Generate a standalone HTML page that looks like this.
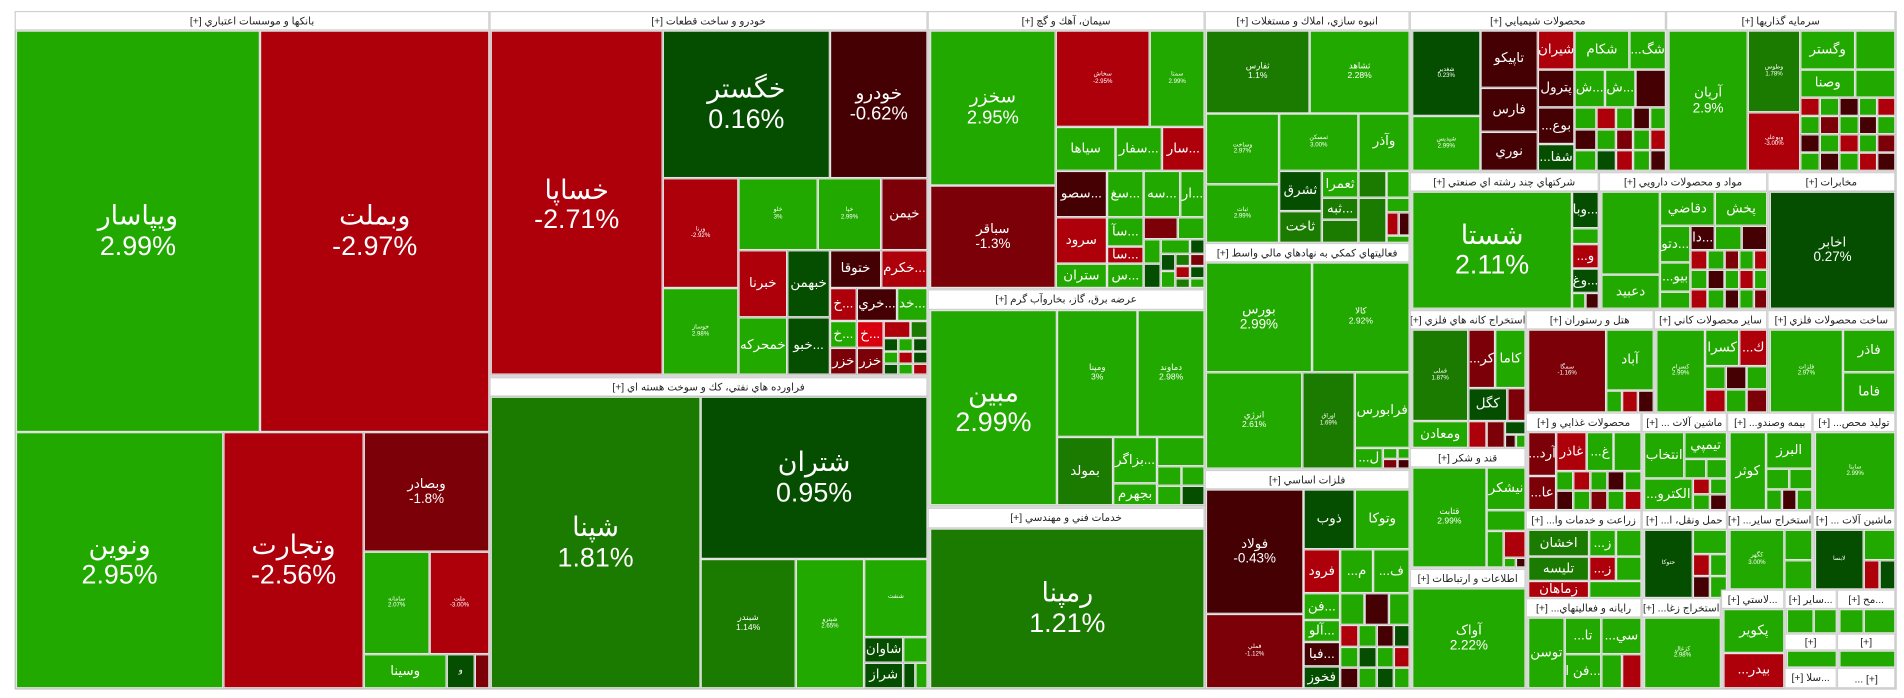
<!DOCTYPE html>
<html><head><meta charset="utf-8">
<style>
html,body{margin:0;padding:0;background:#fff;width:1904px;height:698px;overflow:hidden}
#w{position:absolute;left:0;top:0;width:1560px;height:572px;transform:scale(1.22051);transform-origin:0 0;font-family:"Liberation Sans","DejaVu Sans",sans-serif}
.s{position:absolute;border:1px solid #c8c8c8;box-sizing:border-box;background:#d8d8d8}
.h{position:absolute;background:#fff;color:#222;font-size:8.5px;text-align:center;box-sizing:border-box;border:1px solid #d0d0d0;display:flex;align-items:center;justify-content:center;white-space:nowrap;overflow:hidden;direction:rtl}
.c{position:absolute;box-sizing:border-box;border:1px solid #e4e4e4;color:#fff;display:flex;align-items:center;justify-content:center;text-align:center;overflow:hidden;line-height:1.1;white-space:nowrap}
.G{background:#22a900}.g{background:#1b7a00}.D{background:#054e00}
.R{background:#ae000b}.r{background:#7c0007}.K{background:#440003}.B{background:#d8000f}
.f1{font-size:22px}.f2{font-size:15px}.f3{font-size:11px}.f4{font-size:7px}.f5{font-size:5px}
</style></head><body><div id="w">
<div class="s" style="left:12px;top:9px;width:1542px;height:556px"></div>

<!-- Banks -->
<div class="h" style="left:12px;top:9px;width:389px;height:16px">بانکها و موسسات اعتباري [+]</div>
<div class="c G f1" style="left:13px;top:25px;width:200px;height:329px">ویپاسار<br>2.99%</div>
<div class="c R f1" style="left:213px;top:25px;width:188px;height:329px">وبملت<br>-2.97%</div>
<div class="c G f1" style="left:13px;top:354px;width:170px;height:210px">ونوین<br>2.95%</div>
<div class="c R f1" style="left:183px;top:354px;width:115px;height:210px">وتجارت<br>-2.56%</div>
<div class="c r f3" style="left:298px;top:354px;width:103px;height:98px">وبصادر<br>-1.8%</div>
<div class="c G f5" style="left:298px;top:452px;width:54px;height:84px">سامانه<br>2.07%</div>
<div class="c R f5" style="left:352px;top:452px;width:49px;height:84px">ملت<br>-3.00%</div>
<div class="c G f3" style="left:298px;top:536px;width:68px;height:28px">وسینا</div>
<div class="c D f4" style="left:366px;top:536px;width:23px;height:28px">و</div>
<div class="c r" style="left:389px;top:536px;width:12px;height:28px"></div>

<!-- Khodro -->
<div class="h" style="left:401px;top:9px;width:359px;height:16px">خودرو و ساخت قطعات [+]</div>
<div class="c R f1" style="left:402px;top:25px;width:141px;height:282px;align-items:flex-start;padding-top:118px">خساپا<br>-2.71%</div>
<div class="c D f1" style="left:543px;top:25px;width:137px;height:121px">خگستر<br>0.16%</div>
<div class="c K f2" style="left:680px;top:25px;width:80px;height:121px">خودرو<br>-0.62%</div>
<div class="c R f5" style="left:543px;top:146px;width:62px;height:90px">ورنا<br>-2.92%</div>
<div class="c G f5" style="left:605px;top:146px;width:65px;height:59px">خلو<br>3%</div>
<div class="c G f5" style="left:670px;top:146px;width:52px;height:59px">خپا<br>2.99%</div>
<div class="c r f3" style="left:722px;top:146px;width:38px;height:59px">خیمن</div>
<div class="c G f5" style="left:543px;top:236px;width:62px;height:71px">خوساز<br>2.98%</div>
<div class="c R f3" style="left:605px;top:205px;width:40px;height:55px">خبرنا</div>
<div class="c D f3" style="left:645px;top:205px;width:35px;height:55px">خبهمن</div>
<div class="c G f3" style="left:605px;top:260px;width:40px;height:47px">خمحرکه</div>
<div class="c D f3" style="left:645px;top:260px;width:35px;height:47px">خبو...</div>
<div class="c K f3" style="left:680px;top:205px;width:42px;height:31px">ختوقا</div>
<div class="c R f3" style="left:722px;top:205px;width:38px;height:31px">خکرم...</div>
<div class="c R f3" style="left:680px;top:236px;width:22px;height:27px">خ...</div>
<div class="c K f3" style="left:702px;top:236px;width:33px;height:27px">خري...</div>
<div class="c G f3" style="left:735px;top:236px;width:25px;height:27px">خد...</div>
<div class="c G f3" style="left:680px;top:263px;width:22px;height:22px">خ...</div>
<div class="c B f3" style="left:702px;top:263px;width:22px;height:22px">خ...</div>
<div class="c r f3" style="left:680px;top:285px;width:22px;height:22px">خزر</div>
<div class="c R" style="left:724px;top:263px;width:22px;height:14px"></div>
<div class="c g" style="left:746px;top:263px;width:14px;height:14px"></div>
<div class="c r f3" style="left:702px;top:285px;width:22px;height:22px">خزر</div>
<div class="c D" style="left:724px;top:277px;width:12px;height:11px"></div>
<div class="c G" style="left:736px;top:277px;width:12px;height:11px"></div>
<div class="c D" style="left:748px;top:277px;width:12px;height:11px"></div>
<div class="c G" style="left:724px;top:288px;width:12px;height:10px"></div>
<div class="c R" style="left:736px;top:288px;width:12px;height:10px"></div>
<div class="c D" style="left:748px;top:288px;width:12px;height:10px"></div>
<div class="c D" style="left:724px;top:298px;width:12px;height:9px"></div>
<div class="c G" style="left:736px;top:298px;width:12px;height:9px"></div>
<div class="c R" style="left:748px;top:298px;width:12px;height:9px"></div>

<!-- Oil -->
<div class="h" style="left:401px;top:309px;width:359px;height:16px">فراورده هاي نفتي، كك و سوخت هسته اي [+]</div>
<div class="c g f1" style="left:402px;top:325px;width:172px;height:239px">شپنا<br>1.81%</div>
<div class="c D f1" style="left:574px;top:325px;width:186px;height:133px">شتران<br>0.95%</div>
<div class="c g f4" style="left:574px;top:458px;width:78px;height:106px">شبندر<br>1.14%</div>
<div class="c G f5" style="left:652px;top:458px;width:56px;height:106px">شپترو<br>2.65%</div>
<div class="c G f5" style="left:708px;top:458px;width:52px;height:64px">شنفت</div>
<div class="c D f3" style="left:708px;top:522px;width:32px;height:21px">شاوان</div>
<div class="c D f3" style="left:708px;top:543px;width:32px;height:21px">شراز</div>
<div class="c G" style="left:740px;top:522px;width:20px;height:21px"></div>
<div class="c D" style="left:740px;top:543px;width:10px;height:21px"></div>
<div class="c G" style="left:750px;top:543px;width:10px;height:21px"></div>

<!-- Cement -->
<div class="h" style="left:760px;top:9px;width:227px;height:16px">سيمان، آهك و گچ [+]</div>
<div class="c G f2" style="left:762px;top:25px;width:103px;height:127px">سخزر<br>2.95%</div>
<div class="c r f3" style="left:762px;top:152px;width:103px;height:84px">سباقر<br>-1.3%</div>
<div class="c R f5" style="left:865px;top:25px;width:77px;height:79px">سخاش<br>-2.95%</div>
<div class="c G f5" style="left:942px;top:25px;width:45px;height:79px">سمتا<br>2.99%</div>
<div class="c G f3" style="left:865px;top:104px;width:49px;height:36px">سیاها</div>
<div class="c G f3" style="left:914px;top:104px;width:38px;height:36px">سفار...</div>
<div class="c R f3" style="left:952px;top:104px;width:35px;height:36px">سار...</div>
<div class="c K f3" style="left:865px;top:140px;width:42px;height:38px">سصو...</div>
<div class="c G f3" style="left:907px;top:140px;width:30px;height:38px">سغ...</div>
<div class="c G f3" style="left:937px;top:140px;width:30px;height:38px">سه...</div>
<div class="c G f3" style="left:967px;top:140px;width:20px;height:38px">ار...</div>
<div class="c R f3" style="left:865px;top:178px;width:42px;height:38px">سرود</div>
<div class="c G f3" style="left:865px;top:216px;width:42px;height:20px">ستران</div>
<div class="c G f3" style="left:907px;top:178px;width:30px;height:24px">سآ...</div>
<div class="c R f3" style="left:907px;top:202px;width:30px;height:14px">سا...</div>
<div class="c G f3" style="left:907px;top:216px;width:30px;height:20px">س...</div>
<div class="c r" style="left:937px;top:178px;width:28px;height:18px"></div>
<div class="c G" style="left:965px;top:178px;width:22px;height:18px"></div>
<div class="c G" style="left:937px;top:196px;width:14px;height:20px"></div>
<div class="c G" style="left:951px;top:196px;width:24px;height:12px"></div>
<div class="c D" style="left:975px;top:196px;width:12px;height:12px"></div>
<div class="c D" style="left:951px;top:208px;width:12px;height:14px"></div>
<div class="c g" style="left:963px;top:208px;width:12px;height:10px"></div>
<div class="c r" style="left:975px;top:208px;width:12px;height:10px"></div>
<div class="c D" style="left:937px;top:216px;width:14px;height:20px"></div>
<div class="c G" style="left:951px;top:222px;width:12px;height:14px"></div>
<div class="c R" style="left:963px;top:218px;width:12px;height:10px"></div>
<div class="c D" style="left:975px;top:218px;width:12px;height:10px"></div>
<div class="c g" style="left:963px;top:228px;width:12px;height:8px"></div>
<div class="c G" style="left:975px;top:228px;width:12px;height:8px"></div>

<!-- Power -->
<div class="h" style="left:760px;top:237px;width:227px;height:17px">عرضه برق، گاز، بخاروآب گرم [+]</div>
<div class="c G f1" style="left:762px;top:254px;width:104px;height:160px">مبين<br>2.99%</div>
<div class="c G f4" style="left:866px;top:254px;width:66px;height:104px">ومپنا<br>3%</div>
<div class="c G f4" style="left:932px;top:254px;width:55px;height:104px">دماوند<br>2.98%</div>
<div class="c g f3" style="left:866px;top:358px;width:46px;height:56px">بمولد</div>
<div class="c G f3" style="left:912px;top:358px;width:36px;height:38px">بزاگر...</div>
<div class="c G f3" style="left:912px;top:396px;width:36px;height:18px">بجهرم</div>
<div class="c G" style="left:948px;top:358px;width:39px;height:24px"></div>
<div class="c G" style="left:948px;top:382px;width:20px;height:16px"></div>
<div class="c G" style="left:968px;top:382px;width:19px;height:16px"></div>
<div class="c G" style="left:948px;top:398px;width:20px;height:16px"></div>
<div class="c D" style="left:968px;top:398px;width:19px;height:16px"></div>

<!-- Tech -->
<div class="h" style="left:760px;top:416px;width:227px;height:17px">خدمات فني و مهندسي [+]</div>
<div class="c g f1" style="left:762px;top:433px;width:225px;height:131px">رمپنا<br>1.21%</div>

<!-- Anbooh -->
<div class="h" style="left:987px;top:9px;width:168px;height:16px">انبوه سازي، املاك و مستغلات [+]</div>
<div class="c g f4" style="left:988px;top:25px;width:85px;height:68px">ثفارس<br>1.1%</div>
<div class="c G f4" style="left:1073px;top:25px;width:82px;height:68px">ثشاهد<br>2.28%</div>
<div class="c G f5" style="left:988px;top:93px;width:60px;height:58px">وساخت<br>2.97%</div>
<div class="c G f5" style="left:988px;top:151px;width:60px;height:48px">ثبات<br>2.99%</div>
<div class="c G f5" style="left:1048px;top:93px;width:65px;height:47px">ثمسکن<br>3.00%</div>
<div class="c G f3" style="left:1113px;top:93px;width:42px;height:47px">وآذر</div>
<div class="c D f3" style="left:1048px;top:140px;width:35px;height:33px">ثشرق</div>
<div class="c g f3" style="left:1048px;top:173px;width:35px;height:26px">ثاخت</div>
<div class="c G f3" style="left:1083px;top:140px;width:30px;height:22px">ثعمرا</div>
<div class="c g f3" style="left:1083px;top:162px;width:30px;height:18px">ثبه...</div>
<div class="c g" style="left:1083px;top:180px;width:30px;height:19px"></div>
<div class="c g" style="left:1113px;top:140px;width:23px;height:22px"></div>
<div class="c G" style="left:1136px;top:140px;width:19px;height:22px"></div>
<div class="c g" style="left:1113px;top:162px;width:23px;height:37px"></div>
<div class="c G" style="left:1136px;top:162px;width:19px;height:12px"></div>
<div class="c R" style="left:1136px;top:174px;width:10px;height:19px"></div>
<div class="c K" style="left:1146px;top:174px;width:9px;height:19px"></div>
<div class="c G" style="left:1136px;top:193px;width:19px;height:6px"></div>

<!-- Finance -->
<div class="h" style="left:987px;top:199px;width:168px;height:16px">فعاليتهاي كمكي به نهادهاي مالي واسط [+]</div>
<div class="c G f3" style="left:988px;top:215px;width:87px;height:90px">بورس<br>2.99%</div>
<div class="c G f4" style="left:1075px;top:215px;width:80px;height:90px">كالا<br>2.92%</div>
<div class="c G f4" style="left:988px;top:305px;width:79px;height:79px">انرژي<br>2.61%</div>
<div class="c g f5" style="left:1067px;top:305px;width:43px;height:79px">اوراق<br>1.69%</div>
<div class="c G f3" style="left:1110px;top:305px;width:45px;height:62px">فرابورس</div>
<div class="c G f3" style="left:1110px;top:367px;width:23px;height:17px">...ل</div>
<div class="c G" style="left:1133px;top:367px;width:12px;height:9px"></div>
<div class="c G" style="left:1145px;top:367px;width:10px;height:9px"></div>
<div class="c r" style="left:1133px;top:376px;width:12px;height:8px"></div>
<div class="c K" style="left:1145px;top:376px;width:10px;height:8px"></div>

<!-- Metals -->
<div class="h" style="left:987px;top:385px;width:168px;height:16px">فلزات اساسي [+]</div>
<div class="c K f3" style="left:988px;top:401px;width:80px;height:102px">فولاد<br>-0.43%</div>
<div class="c r f5" style="left:988px;top:503px;width:80px;height:61px">فملي<br>-1.12%</div>
<div class="c D f3" style="left:1068px;top:401px;width:42px;height:49px">ذوب</div>
<div class="c G f3" style="left:1110px;top:401px;width:45px;height:49px">وتوكا</div>
<div class="c R f3" style="left:1068px;top:450px;width:30px;height:36px">فرود</div>
<div class="c G f3" style="left:1098px;top:450px;width:27px;height:36px">...م</div>
<div class="c G f3" style="left:1125px;top:450px;width:30px;height:36px">...ف</div>
<div class="c G f3" style="left:1068px;top:486px;width:30px;height:22px">فن...</div>
<div class="c G f3" style="left:1068px;top:508px;width:30px;height:18px">آلو...</div>
<div class="c K f3" style="left:1068px;top:526px;width:30px;height:20px">فبا...</div>
<div class="c D f3" style="left:1068px;top:546px;width:30px;height:18px">فخوز</div>
<div class="c G" style="left:1098px;top:486px;width:20px;height:26px"></div>
<div class="c K" style="left:1118px;top:486px;width:20px;height:26px"></div>
<div class="c G" style="left:1138px;top:486px;width:17px;height:26px"></div>
<div class="c R" style="left:1098px;top:512px;width:15px;height:18px"></div>
<div class="c G" style="left:1113px;top:512px;width:15px;height:18px"></div>
<div class="c K" style="left:1128px;top:512px;width:14px;height:18px"></div>
<div class="c D" style="left:1142px;top:512px;width:13px;height:18px"></div>
<div class="c G" style="left:1098px;top:530px;width:15px;height:17px"></div>
<div class="c D" style="left:1113px;top:530px;width:15px;height:17px"></div>
<div class="c G" style="left:1128px;top:530px;width:14px;height:17px"></div>
<div class="c R" style="left:1142px;top:530px;width:13px;height:17px"></div>
<div class="c K" style="left:1098px;top:547px;width:15px;height:17px"></div>
<div class="c G" style="left:1113px;top:547px;width:15px;height:17px"></div>
<div class="c D" style="left:1128px;top:547px;width:14px;height:17px"></div>
<div class="c G" style="left:1142px;top:547px;width:13px;height:17px"></div>

<!-- Chem -->
<div class="h" style="left:1155px;top:9px;width:210px;height:16px">محصولات شيميايي [+]</div>
<div class="c D f5" style="left:1157px;top:25px;width:56px;height:70px">شغدیر<br>0.23%</div>
<div class="c G f5" style="left:1157px;top:95px;width:56px;height:45px">شپدیس<br>2.99%</div>
<div class="c K f3" style="left:1213px;top:25px;width:47px;height:47px">تاپيكو</div>
<div class="c K f3" style="left:1213px;top:72px;width:47px;height:36px">فارس</div>
<div class="c K f3" style="left:1213px;top:108px;width:47px;height:32px">نوري</div>
<div class="c R f3" style="left:1260px;top:25px;width:30px;height:32px">شيران</div>
<div class="c K f3" style="left:1260px;top:57px;width:30px;height:31px">پترول</div>
<div class="c K f3" style="left:1260px;top:88px;width:30px;height:30px">...بوع</div>
<div class="c D f3" style="left:1260px;top:118px;width:30px;height:22px">...شفا</div>
<div class="c G f3" style="left:1290px;top:25px;width:45px;height:32px">شكام</div>
<div class="c G f3" style="left:1335px;top:25px;width:30px;height:32px">...شگ</div>
<div class="c G f3" style="left:1290px;top:57px;width:25px;height:31px">ش...</div>
<div class="c G f3" style="left:1315px;top:57px;width:25px;height:31px">ش...</div>
<div class="c K" style="left:1340px;top:57px;width:25px;height:31px"></div>
<div class="c G" style="left:1290px;top:88px;width:18px;height:18px"></div>
<div class="c R" style="left:1308px;top:88px;width:16px;height:18px"></div>
<div class="c G" style="left:1324px;top:88px;width:14px;height:18px"></div>
<div class="c K" style="left:1338px;top:88px;width:14px;height:18px"></div>
<div class="c G" style="left:1352px;top:88px;width:13px;height:18px"></div>
<div class="c K" style="left:1290px;top:106px;width:18px;height:17px"></div>
<div class="c G" style="left:1308px;top:106px;width:16px;height:17px"></div>
<div class="c r" style="left:1324px;top:106px;width:14px;height:17px"></div>
<div class="c G" style="left:1338px;top:106px;width:14px;height:17px"></div>
<div class="c R" style="left:1352px;top:106px;width:13px;height:17px"></div>
<div class="c G" style="left:1290px;top:123px;width:18px;height:17px"></div>
<div class="c D" style="left:1308px;top:123px;width:16px;height:17px"></div>
<div class="c R" style="left:1324px;top:123px;width:14px;height:17px"></div>
<div class="c G" style="left:1338px;top:123px;width:14px;height:17px"></div>
<div class="c K" style="left:1352px;top:123px;width:13px;height:17px"></div>

<!-- Investment -->
<div class="h" style="left:1365px;top:9px;width:188px;height:16px">سرمايه گذاريها [+]</div>
<div class="c G f3" style="left:1367px;top:25px;width:65px;height:115px">آريان<br>2.9%</div>
<div class="c g f5" style="left:1432px;top:25px;width:43px;height:67px">وطوس<br>1.78%</div>
<div class="c R f5" style="left:1432px;top:92px;width:43px;height:48px">وبوعلی<br>-3.00%</div>
<div class="c G f3" style="left:1475px;top:25px;width:45px;height:32px">وگستر</div>
<div class="c G" style="left:1520px;top:25px;width:33px;height:32px"></div>
<div class="c G f3" style="left:1475px;top:57px;width:45px;height:23px">وصنا</div>
<div class="c G" style="left:1520px;top:57px;width:33px;height:23px"></div>
<div class="c R" style="left:1475px;top:80px;width:16px;height:15px"></div>
<div class="c G" style="left:1491px;top:80px;width:16px;height:15px"></div>
<div class="c K" style="left:1507px;top:80px;width:16px;height:15px"></div>
<div class="c G" style="left:1523px;top:80px;width:15px;height:15px"></div>
<div class="c R" style="left:1538px;top:80px;width:15px;height:15px"></div>
<div class="c G" style="left:1475px;top:95px;width:16px;height:15px"></div>
<div class="c r" style="left:1491px;top:95px;width:16px;height:15px"></div>
<div class="c G" style="left:1507px;top:95px;width:16px;height:15px"></div>
<div class="c K" style="left:1523px;top:95px;width:15px;height:15px"></div>
<div class="c G" style="left:1538px;top:95px;width:15px;height:15px"></div>
<div class="c K" style="left:1475px;top:110px;width:16px;height:15px"></div>
<div class="c G" style="left:1491px;top:110px;width:16px;height:15px"></div>
<div class="c R" style="left:1507px;top:110px;width:16px;height:15px"></div>
<div class="c G" style="left:1523px;top:110px;width:15px;height:15px"></div>
<div class="c r" style="left:1538px;top:110px;width:15px;height:15px"></div>
<div class="c G" style="left:1475px;top:125px;width:16px;height:15px"></div>
<div class="c K" style="left:1491px;top:125px;width:16px;height:15px"></div>
<div class="c G" style="left:1507px;top:125px;width:16px;height:15px"></div>
<div class="c R" style="left:1523px;top:125px;width:15px;height:15px"></div>
<div class="c K" style="left:1538px;top:125px;width:15px;height:15px"></div>

<!-- Multi -->
<div class="h" style="left:1155px;top:141px;width:155px;height:16px">شركتهاي چند رشته اي صنعتي [+]</div>
<div class="c G f1" style="left:1157px;top:157px;width:131px;height:96px">شستا<br>2.11%</div>
<div class="c D f3" style="left:1288px;top:157px;width:22px;height:30px">وبا...</div>
<div class="c G" style="left:1288px;top:187px;width:22px;height:13px"></div>
<div class="c R f3" style="left:1288px;top:200px;width:22px;height:20px">...و</div>
<div class="c D f3" style="left:1288px;top:220px;width:22px;height:20px">وغ...</div>
<div class="c G" style="left:1288px;top:240px;width:11px;height:13px"></div>
<div class="c K" style="left:1299px;top:240px;width:11px;height:13px"></div>

<!-- Pharma -->
<div class="h" style="left:1310px;top:141px;width:138px;height:16px">مواد و محصولات دارويي [+]</div>
<div class="c G" style="left:1312px;top:157px;width:48px;height:68px"></div>
<div class="c G f3" style="left:1312px;top:225px;width:48px;height:28px">دعبيد</div>
<div class="c G f3" style="left:1360px;top:157px;width:45px;height:28px">دقاضي</div>
<div class="c G f3" style="left:1405px;top:157px;width:43px;height:28px">پخش</div>
<div class="c G f3" style="left:1360px;top:185px;width:25px;height:30px">دتو...</div>
<div class="c G f3" style="left:1360px;top:215px;width:25px;height:24px">...بيو</div>
<div class="c G" style="left:1360px;top:239px;width:25px;height:14px"></div>
<div class="c K f3" style="left:1385px;top:185px;width:20px;height:20px">دا...</div>
<div class="c G" style="left:1405px;top:185px;width:22px;height:20px"></div>
<div class="c K" style="left:1427px;top:185px;width:21px;height:20px"></div>
<div class="c R" style="left:1385px;top:205px;width:14px;height:16px"></div>
<div class="c G" style="left:1399px;top:205px;width:14px;height:16px"></div>
<div class="c r" style="left:1413px;top:205px;width:12px;height:16px"></div>
<div class="c G" style="left:1425px;top:205px;width:12px;height:16px"></div>
<div class="c R" style="left:1437px;top:205px;width:11px;height:16px"></div>
<div class="c G" style="left:1385px;top:221px;width:14px;height:16px"></div>
<div class="c K" style="left:1399px;top:221px;width:14px;height:16px"></div>
<div class="c G" style="left:1413px;top:221px;width:12px;height:16px"></div>
<div class="c R" style="left:1425px;top:221px;width:12px;height:16px"></div>
<div class="c G" style="left:1437px;top:221px;width:11px;height:16px"></div>
<div class="c R" style="left:1385px;top:237px;width:14px;height:16px"></div>
<div class="c G" style="left:1399px;top:237px;width:14px;height:16px"></div>
<div class="c K" style="left:1413px;top:237px;width:12px;height:16px"></div>
<div class="c G" style="left:1425px;top:237px;width:12px;height:16px"></div>
<div class="c r" style="left:1437px;top:237px;width:11px;height:16px"></div>

<!-- Telecom -->
<div class="h" style="left:1448px;top:141px;width:105px;height:16px">مخابرات [+]</div>
<div class="c D f3" style="left:1450px;top:157px;width:103px;height:96px">اخابر<br>0.27%</div>

<!-- Mining -->
<div class="h" style="left:1155px;top:254px;width:95px;height:16px">استخراج كانه هاي فلزي [+]</div>
<div class="c g f5" style="left:1157px;top:270px;width:46px;height:75px">فملی<br>1.87%</div>
<div class="c r f3" style="left:1203px;top:270px;width:22px;height:48px">...كر</div>
<div class="c G f3" style="left:1225px;top:270px;width:25px;height:48px">كاما</div>
<div class="c D f3" style="left:1203px;top:318px;width:32px;height:27px">كگل</div>
<div class="c r" style="left:1235px;top:318px;width:15px;height:27px"></div>
<div class="c G f3" style="left:1157px;top:345px;width:46px;height:22px">ومعادن</div>
<div class="c R" style="left:1203px;top:345px;width:15px;height:22px"></div>
<div class="c r" style="left:1218px;top:345px;width:15px;height:22px"></div>
<div class="c D" style="left:1233px;top:345px;width:17px;height:11px"></div>
<div class="c K" style="left:1233px;top:356px;width:9px;height:11px"></div>
<div class="c G" style="left:1242px;top:356px;width:8px;height:11px"></div>

<!-- Sugar -->
<div class="h" style="left:1155px;top:367px;width:95px;height:16px">قند و شكر [+]</div>
<div class="c G f4" style="left:1157px;top:383px;width:61px;height:82px">قثابت<br>2.99%</div>
<div class="c G f3" style="left:1218px;top:383px;width:32px;height:35px">نيشكر</div>
<div class="c G" style="left:1218px;top:418px;width:32px;height:17px"></div>
<div class="c G" style="left:1218px;top:435px;width:14px;height:30px"></div>
<div class="c R" style="left:1232px;top:435px;width:18px;height:22px"></div>
<div class="c G" style="left:1232px;top:457px;width:10px;height:8px"></div>
<div class="c K" style="left:1242px;top:457px;width:8px;height:8px"></div>

<!-- Telecom2 -->
<div class="h" style="left:1155px;top:466px;width:95px;height:16px">اطلاعات و ارتباطات [+]</div>
<div class="c G f3" style="left:1157px;top:482px;width:93px;height:82px">آواک<br>2.22%</div>

<!-- Hotel -->
<div class="h" style="left:1250px;top:254px;width:105px;height:16px">هتل و رستوران [+]</div>
<div class="c r f5" style="left:1252px;top:270px;width:64px;height:68px">سمگا<br>-1.16%</div>
<div class="c G f3" style="left:1316px;top:270px;width:39px;height:50px">آباد</div>
<div class="c G" style="left:1316px;top:320px;width:13px;height:18px"></div>
<div class="c R" style="left:1329px;top:320px;width:13px;height:18px"></div>
<div class="c K" style="left:1342px;top:320px;width:13px;height:18px"></div>

<!-- Other mining -->
<div class="h" style="left:1355px;top:254px;width:93px;height:16px">ساير محصولات كاني [+]</div>
<div class="c G f5" style="left:1357px;top:270px;width:40px;height:68px">کسرام<br>2.99%</div>
<div class="c G f3" style="left:1397px;top:270px;width:28px;height:30px">كسرا</div>
<div class="c R f3" style="left:1425px;top:270px;width:23px;height:30px">...ك</div>
<div class="c G" style="left:1397px;top:300px;width:17px;height:19px"></div>
<div class="c K" style="left:1414px;top:300px;width:17px;height:19px"></div>
<div class="c G" style="left:1431px;top:300px;width:17px;height:19px"></div>
<div class="c R" style="left:1397px;top:319px;width:17px;height:19px"></div>
<div class="c G" style="left:1414px;top:319px;width:17px;height:19px"></div>
<div class="c r" style="left:1431px;top:319px;width:17px;height:19px"></div>

<!-- Metal products -->
<div class="h" style="left:1448px;top:254px;width:105px;height:16px">ساخت محصولات فلزي [+]</div>
<div class="c G f5" style="left:1450px;top:270px;width:60px;height:68px">فلزات<br>2.97%</div>
<div class="c G f3" style="left:1510px;top:270px;width:43px;height:35px">فاذر</div>
<div class="c G f3" style="left:1510px;top:305px;width:43px;height:33px">فاما</div>

<!-- Food -->
<div class="h" style="left:1250px;top:338px;width:95px;height:16px">محصولات غذايي و [+]</div>
<div class="c r f3" style="left:1252px;top:354px;width:23px;height:36px">...آرد</div>
<div class="c r f3" style="left:1252px;top:390px;width:23px;height:28px">...عا</div>
<div class="c R f3" style="left:1275px;top:354px;width:25px;height:32px">غاذر</div>
<div class="c G f3" style="left:1300px;top:354px;width:22px;height:32px">...غ</div>
<div class="c G" style="left:1322px;top:354px;width:23px;height:32px"></div>
<div class="c G" style="left:1275px;top:386px;width:14px;height:16px"></div>
<div class="c R" style="left:1289px;top:386px;width:14px;height:16px"></div>
<div class="c G" style="left:1303px;top:386px;width:14px;height:16px"></div>
<div class="c K" style="left:1317px;top:386px;width:14px;height:16px"></div>
<div class="c G" style="left:1331px;top:386px;width:14px;height:16px"></div>
<div class="c K" style="left:1275px;top:402px;width:14px;height:16px"></div>
<div class="c G" style="left:1289px;top:402px;width:14px;height:16px"></div>
<div class="c r" style="left:1303px;top:402px;width:14px;height:16px"></div>
<div class="c G" style="left:1317px;top:402px;width:14px;height:16px"></div>
<div class="c R" style="left:1331px;top:402px;width:14px;height:16px"></div>

<!-- Machines -->
<div class="h" style="left:1345px;top:338px;width:70px;height:16px">ماشين آلات ... [+]</div>
<div class="c G f3" style="left:1347px;top:354px;width:33px;height:38px">انتخاب</div>
<div class="c G f3" style="left:1380px;top:354px;width:35px;height:22px">تيمپي</div>
<div class="c G" style="left:1380px;top:376px;width:18px;height:16px"></div>
<div class="c G" style="left:1398px;top:376px;width:17px;height:16px"></div>
<div class="c G f3" style="left:1347px;top:392px;width:40px;height:26px">...الكترو</div>
<div class="c R" style="left:1387px;top:392px;width:14px;height:13px"></div>
<div class="c G" style="left:1401px;top:392px;width:14px;height:13px"></div>
<div class="c G" style="left:1387px;top:405px;width:14px;height:13px"></div>
<div class="c K" style="left:1401px;top:405px;width:14px;height:13px"></div>

<!-- Insurance -->
<div class="h" style="left:1415px;top:338px;width:70px;height:16px">بيمه وصندو... [+]</div>
<div class="c G f3" style="left:1417px;top:354px;width:30px;height:64px">كوثر</div>
<div class="c G f3" style="left:1447px;top:354px;width:38px;height:30px">البرز</div>
<div class="c G" style="left:1447px;top:384px;width:19px;height:17px"></div>
<div class="c G" style="left:1466px;top:384px;width:19px;height:17px"></div>
<div class="c G" style="left:1447px;top:401px;width:13px;height:17px"></div>
<div class="c K" style="left:1460px;top:401px;width:12px;height:17px"></div>
<div class="c G" style="left:1472px;top:401px;width:13px;height:17px"></div>

<!-- Production -->
<div class="h" style="left:1485px;top:338px;width:68px;height:16px">توليد محص... [+]</div>
<div class="c G f5" style="left:1487px;top:354px;width:66px;height:64px">ساینا<br>2.99%</div>

<!-- Agri -->
<div class="h" style="left:1250px;top:418px;width:95px;height:16px">زراعت و خدمات وا... [+]</div>
<div class="c g f3" style="left:1252px;top:434px;width:50px;height:22px">اخشان</div>
<div class="c g f3" style="left:1252px;top:456px;width:50px;height:20px">تليسه</div>
<div class="c R f3" style="left:1252px;top:476px;width:50px;height:14px">زماهان</div>
<div class="c G f3" style="left:1302px;top:434px;width:22px;height:22px">...ز</div>
<div class="c R f3" style="left:1302px;top:456px;width:22px;height:20px">...ز</div>
<div class="c G" style="left:1324px;top:434px;width:21px;height:22px"></div>
<div class="c G" style="left:1324px;top:456px;width:21px;height:20px"></div>
<div class="c G" style="left:1302px;top:476px;width:43px;height:14px"></div>

<!-- Transport -->
<div class="h" style="left:1345px;top:418px;width:70px;height:16px">حمل ونقل، ا... [+]</div>
<div class="c D f5" style="left:1347px;top:434px;width:40px;height:56px">حتوکا</div>
<div class="c G" style="left:1387px;top:434px;width:28px;height:20px"></div>
<div class="c R" style="left:1387px;top:454px;width:14px;height:18px"></div>
<div class="c G" style="left:1401px;top:454px;width:14px;height:18px"></div>
<div class="c K" style="left:1387px;top:472px;width:14px;height:18px"></div>
<div class="c G" style="left:1401px;top:472px;width:14px;height:18px"></div>

<!-- Other mining 2 -->
<div class="h" style="left:1415px;top:418px;width:70px;height:16px">استخراج ساير... [+]</div>
<div class="c G f5" style="left:1417px;top:434px;width:45px;height:49px">کگهر<br>3.00%</div>
<div class="c G" style="left:1462px;top:434px;width:23px;height:25px"></div>
<div class="c G" style="left:1462px;top:459px;width:23px;height:24px"></div>

<!-- Machines 2 -->
<div class="h" style="left:1485px;top:418px;width:68px;height:16px">ماشين آلات ... [+]</div>
<div class="c D f5" style="left:1487px;top:434px;width:40px;height:49px">لابسا</div>
<div class="c G" style="left:1527px;top:434px;width:26px;height:25px"></div>
<div class="c R" style="left:1527px;top:459px;width:13px;height:24px"></div>
<div class="c D" style="left:1540px;top:459px;width:13px;height:24px"></div>

<!-- Computers -->
<div class="h" style="left:1250px;top:490px;width:95px;height:16px">رايانه و فعاليتهاي... [+]</div>
<div class="c G f3" style="left:1252px;top:506px;width:30px;height:58px">توسن</div>
<div class="c G f3" style="left:1282px;top:506px;width:30px;height:30px">...تا</div>
<div class="c G f3" style="left:1282px;top:536px;width:30px;height:28px">فن ا...</div>
<div class="c G f3" style="left:1312px;top:506px;width:33px;height:30px">...سي</div>
<div class="c G" style="left:1312px;top:536px;width:17px;height:28px"></div>
<div class="c R" style="left:1329px;top:536px;width:16px;height:28px"></div>

<!-- Coal -->
<div class="h" style="left:1345px;top:490px;width:65px;height:16px">استخراج زغا... [+]</div>
<div class="c G f5" style="left:1347px;top:506px;width:63px;height:58px">کزغال<br>2.98%</div>

<!-- Plastics etc -->
<div class="h" style="left:1410px;top:483px;width:52px;height:16px">...لاستي [+]</div>
<div class="c G f3" style="left:1412px;top:499px;width:50px;height:36px">پكوير</div>
<div class="c R f3" style="left:1412px;top:535px;width:50px;height:29px">...بيدر</div>
<div class="h" style="left:1462px;top:483px;width:43px;height:16px">...ساير [+]</div>
<div class="c G" style="left:1464px;top:499px;width:22px;height:20px"></div>
<div class="c G" style="left:1486px;top:499px;width:19px;height:20px"></div>
<div class="h" style="left:1505px;top:483px;width:48px;height:16px">...مح [+]</div>
<div class="c G" style="left:1507px;top:499px;width:20px;height:20px"></div>
<div class="c G" style="left:1527px;top:499px;width:26px;height:20px"></div>
<div class="h" style="left:1462px;top:519px;width:43px;height:14px">[+]</div>
<div class="c G" style="left:1464px;top:533px;width:41px;height:14px"></div>
<div class="h" style="left:1505px;top:519px;width:48px;height:14px">[+]</div>
<div class="c G" style="left:1507px;top:533px;width:46px;height:14px"></div>
<div class="h" style="left:1462px;top:547px;width:43px;height:17px">...سلا [+]</div>
<div class="h" style="left:1505px;top:547px;width:48px;height:17px">[+] ...</div>
</div></body></html>
